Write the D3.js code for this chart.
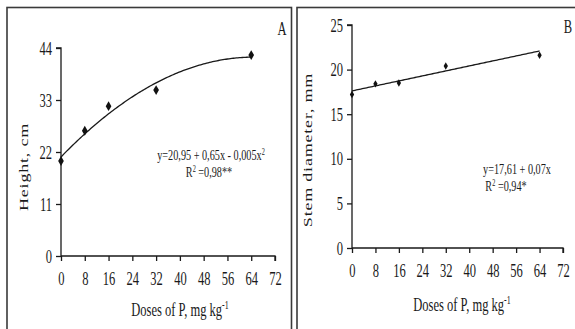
<!DOCTYPE html>
<html>
<head>
<meta charset="utf-8">
<script src="https://cdn.jsdelivr.net/npm/d3@7"></script>
<style>
  body { margin: 0; background: #fff; }
  svg { display: block; }
  text { font-family: "Liberation Serif", "Times New Roman", serif; fill: #1a1a1a; }
  .axis path, .axis line { stroke: #1a1a1a; stroke-width: 1.3; }
</style>
</head>
<body>
<script>
// doses of P (mg kg-1)
var doses = [0, 8, 16, 32, 64];
var height = [20.1, 26.5, 31.7, 35.1, 42.5];
var stemDiameter = [17.2, 18.4, 18.5, 20.4, 21.6];
// fitted equations printed on the panels
var fitHeight = [20.95, 0.65, -0.005];
var fitStem = [17.61, 0.07];
// axis ticks
var xTicks = [0, 8, 16, 24, 32, 40, 48, 56, 64, 72];
var yTicksHeight = [0, 11, 22, 33, 44];
var yTicksStem = [0, 5, 10, 15, 20, 25];

var w = 575;
var h = 329;
var sx = 0.66; // the figure text is horizontally squeezed

var svg = d3.select("body")
            .append("svg")
            .attr("width", w)
            .attr("height", h);

function poly(c, x) {
  var y = 0;
  c.forEach(function(k, i) { y += k * Math.pow(x, i); });
  return y;
}

function drawPanel(p) {
  // panel frame
  svg.append("rect")
     .attr("x", p.frame[0])
     .attr("y", p.frame[1])
     .attr("width", p.frame[2])
     .attr("height", p.frame[3])
     .style("fill", "none")
     .style("stroke", "#3a3a3a")
     .style("stroke-width", 1.6);

  var xScale = d3.scaleLinear().domain([0, 72]).range(p.xRange);
  var yScale = d3.scaleLinear().domain([0, d3.max(p.yTicks)]).range(p.yRange);

  // x axis
  var gx = svg.append("g")
     .attr("class", "axis")
     .attr("transform", "translate(0," + p.yRange[0] + ")")
     .call(d3.axisBottom(xScale).tickValues(xTicks).tickSize(5).tickSizeOuter(5).tickFormat(d3.format("d")));
  gx.selectAll("text")
    .attr("y", 16)
    .attr("dy", "0.71em")
    .attr("transform", "scale(" + sx + ",1)")
    .style("font-size", "19px");

  // y axis
  var gy = svg.append("g")
     .attr("class", "axis")
     .attr("transform", "translate(" + p.xRange[0] + ",0)")
     .call(d3.axisLeft(yScale).tickValues(p.yTicks).tickSize(5).tickSizeOuter(5).tickFormat(d3.format("d")));
  gy.selectAll("text")
    .attr("x", -9 / sx)
    .attr("transform", "scale(" + sx + ",1)")
    .style("font-size", "19px");
  gy.select(".domain").attr("d", "M-5," + yScale(d3.max(p.yTicks)) + "H0V" + p.yRange[0]);
  gx.select(".domain").attr("d", "M" + p.xRange[0] + ",0H" + p.xRange[1] + "V5");

  // axis titles
  svg.append("text")
     .attr("transform", "translate(" + p.xTitle[0] + "," + p.xTitle[1] + ") scale(" + sx + ",1)")
     .style("text-anchor", "middle")
     .style("font-size", "19px")
     .html("Doses of P, mg kg<tspan dy='-7' font-size='12px'>-1</tspan>");

  svg.append("text")
     .attr("transform", "translate(" + p.yTitle[0] + "," + p.yTitle[1] + ") rotate(-90) scale(1," + sx + ")")
     .style("text-anchor", "middle")
     .style("font-size", "18px")
     .style("letter-spacing", "0.8px")
     .text(p.yLabel);

  // panel letter
  svg.append("text")
     .attr("transform", "translate(" + p.letterPos[0] + "," + p.letterPos[1] + ") scale(" + sx + ",1)")
     .style("text-anchor", "middle")
     .style("font-size", "19px")
     .text(p.letter);

  // fitted line
  var fitX = d3.range(0, 64.5, 0.5);
  var line = d3.line()
               .x(function(d) { return xScale(d); })
               .y(function(d) { return yScale(poly(p.fit, d)); });
  svg.append("path")
     .datum(fitX)
     .attr("d", line)
     .style("fill", "none")
     .style("stroke", "#1a1a1a")
     .style("stroke-width", 1.3);

  // points
  svg.selectAll(".pt_" + p.letter)
     .data(doses)
     .enter().append("path")
     .attr("class", "pt_" + p.letter)
     .attr("transform", function(d, i) {
       return "translate(" + xScale(d) + "," + yScale(p.values[i]) + ")";
     })
     .attr("d", d3.symbol().type(d3.symbolDiamond).size(p.markerSize))
     .style("fill", "#111");

  // equation, both lines in one text block
  var eq = svg.append("text")
     .attr("transform", "translate(" + p.eqPos[0] + "," + p.eqPos[1] + ") scale(" + sx + ",1)")
     .style("text-anchor", "middle")
     .style("font-size", "15.5px");
  eq.append("tspan").attr("x", 0).attr("y", 0).html(p.eqLine1);
  eq.append("tspan").attr("x", p.eqShift / sx).attr("y", 17).html(p.eqLine2);
}

drawPanel({
  letter: "A",
  frame: [7, 7.5, 284.5, 340],
  xRange: [61, 275],
  yRange: [256, 48],
  yTicks: yTicksHeight,
  values: height,
  fit: fitHeight,
  markerSize: 28,
  xTitle: [180, 316],
  yTitle: [28, 167],
  yLabel: "Height, cm",
  letterPos: [282, 35],
  eqPos: [211, 160],
  eqShift: -2,
  eqLine1: "y=20,95 + 0,65x - 0,005x<tspan dy='-5' font-size='9.5px'>2</tspan>",
  eqLine2: "R<tspan dy='-5' font-size='9.5px'>2</tspan><tspan dy='5'> =0,98**</tspan>"
});

drawPanel({
  letter: "B",
  frame: [297, 7.5, 290, 340],
  xRange: [352, 563],
  yRange: [248, 25],
  yTicks: yTicksStem,
  values: stemDiameter,
  fit: fitStem,
  markerSize: 16,
  xTitle: [462, 311],
  yTitle: [312, 150],
  yLabel: "Stem diameter, mm",
  letterPos: [568, 33],
  eqPos: [517, 174],
  eqShift: -11,
  eqLine1: "y=17,61 + 0,07x",
  eqLine2: "R<tspan dy='-5' font-size='9.5px'>2</tspan><tspan dy='5'> =0,94*</tspan>"
});
</script>
</body>
</html>
